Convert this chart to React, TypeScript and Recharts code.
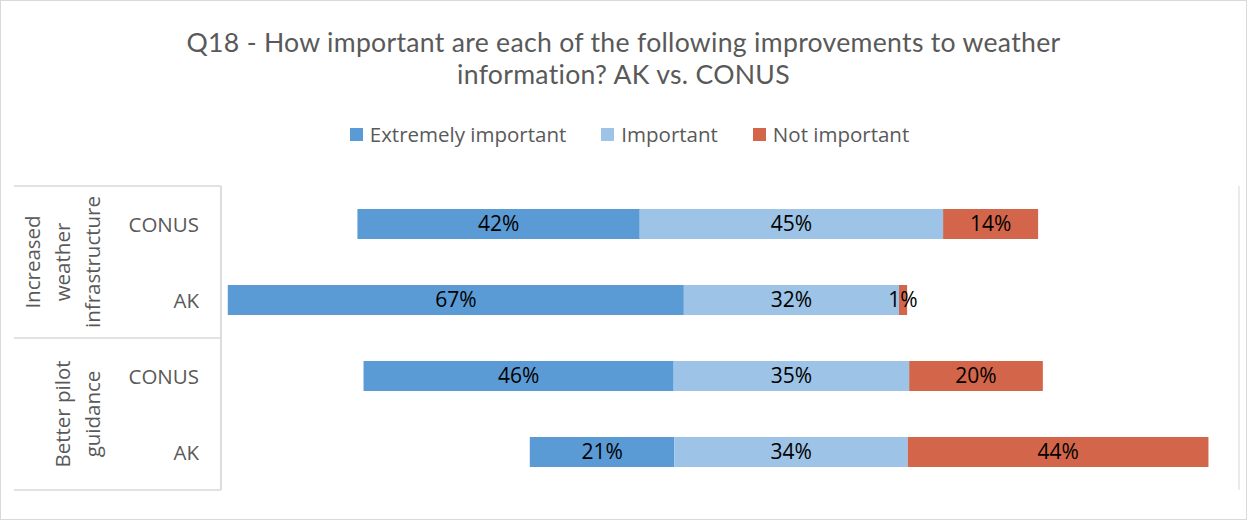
import React from 'react';
import { BarChart, Bar, XAxis, YAxis, CartesianGrid, LabelList } from 'recharts';

const rowKeys = ['infra-conus', 'infra-ak', 'pilot-conus', 'pilot-ak'];
const rowLabels = ['CONUS', 'AK', 'CONUS', 'AK'];
const groupLabels = [['Increased', 'weather', 'infrastructure'], ['Better pilot', 'guidance']];
const rowGroup = [0, 0, 1, 1];
const offsetValues = [20.1, 1.0, 21.0, 45.5];
const extremelyValues = [41.6, 67.2, 45.7, 21.3];
const importantValues = [44.7, 31.7, 34.7, 34.4];
const notImportantValues = [14.0, 1.2, 19.7, 44.3];
const xTicks = [0, 20, 40, 60, 80, 100, 120, 140];
const titleLines = ['Q18 - How important are each of the following improvements to weather', 'information? AK vs. CONUS'];
const seriesNames = ['Extremely important', 'Important', 'Not important'];
const seriesColors = ['#5B9BD5', '#9DC3E6', '#D3654A'];

const data = rowKeys.map((k, i) => ({
  key: k,
  label: rowLabels[i],
  group: rowGroup[i],
  offset: offsetValues[i],
  extremely: extremelyValues[i],
  important: importantValues[i],
  notImportant: notImportantValues[i],
}));

const W = 1247;
const H = 520;
const TOP = 186;
const BOTTOM = 30;
const YW = 221;
const FONT = '"Open Sans", sans-serif';
const TITLE_FONT = 'Lato, "Open Sans", sans-serif';
const HALF = (H - TOP - BOTTOM) / data.length / 2;

const YTick = (props: any) => {
  const { y, payload, index } = props;
  const i = typeof index === 'number' ? index : rowKeys.indexOf(payload.value);
  const d = data[i];
  const firstOfGroup = i === 0 || data[i - 1].group !== d.group;
  const last = i === data.length - 1;
  const lines = groupLabels[d.group];
  return (
    <g>
      <text x={YW - 22} y={y} textAnchor="end" dominantBaseline="central" fill="#595959" fontSize={20.5} fontFamily={FONT}>
        {d.label}
      </text>
      {firstOfGroup && <line x1={14} x2={YW} y1={y - HALF} y2={y - HALF} stroke="#D9D9D9" strokeWidth={1.5} />}
      {last && <line x1={14} x2={YW} y1={y + HALF} y2={y + HALF} stroke="#D9D9D9" strokeWidth={1.5} />}
      {firstOfGroup && (
        <text transform={`translate(0, ${y + HALF}) rotate(-90)`} textAnchor="middle" fill="#595959" fontSize={20.5} fontFamily={FONT}>
          {lines.map((t, j) => (
            <tspan key={j} x={0} y={92 - (lines.length - 1 - j) * 30} dominantBaseline="central">{t}</tspan>
          ))}
        </text>
      )}
    </g>
  );
};

const fmt = (v: any) => `${Math.round(Number(v))}%`;

export default function App() {
  return (
    <div style={{ position: 'fixed', left: 0, top: 0, width: W, height: H, background: '#fff', fontFamily: FONT }}>
      <div style={{ position: 'absolute', left: 0, top: 0, width: W, height: H, boxSizing: 'border-box', border: '1.5px solid #D9D9D9', pointerEvents: 'none', zIndex: 2 }} />
      {titleLines.map((t, i) => (
        <div key={i} style={{ position: 'absolute', left: 0, top: 27 + i * 32, width: W, textAlign: 'center', color: '#595959', fontFamily: TITLE_FONT, fontSize: 26.6, letterSpacing: 0.3, lineHeight: '31px', whiteSpace: 'nowrap' }}>
          {t}
        </div>
      ))}
      <div style={{ position: 'absolute', left: 0, top: 121, width: W, display: 'flex', justifyContent: 'center', color: '#595959', fontSize: 20.5, lineHeight: '26px', paddingLeft: 12, boxSizing: 'border-box' }}>
        {seriesNames.map((n, i) => (
          <div key={n} style={{ display: 'flex', alignItems: 'center', marginRight: i < seriesNames.length - 1 ? 35 : 0 }}>
            <span style={{ display: 'inline-block', width: 13, height: 13, background: seriesColors[i], marginRight: 7 }} />
            <span>{n}</span>
          </div>
        ))}
      </div>
      <BarChart width={W} height={H} data={data} layout="vertical" margin={{ top: TOP, bottom: BOTTOM, left: 0, right: 8 }} barSize={30}>
        <CartesianGrid horizontal={false} vertical stroke="#E3E3E3" strokeWidth={1.5} />
        <XAxis type="number" domain={[0, 150]} ticks={xTicks} tick={false} axisLine={false} tickLine={false} height={0} />
        <YAxis type="category" dataKey="key" width={YW} tick={<YTick />} tickLine={false} axisLine={{ stroke: '#D9D9D9', strokeWidth: 1.5 }} interval={0} />
        <Bar dataKey="offset" stackId="a" fill="transparent" isAnimationActive={false} />
        <Bar dataKey="extremely" stackId="a" fill={seriesColors[0]} isAnimationActive={false}>
          <LabelList dataKey="extremely" position="center" formatter={fmt} fill="#000" fontSize={21} fontFamily={FONT} />
        </Bar>
        <Bar dataKey="important" stackId="a" fill={seriesColors[1]} isAnimationActive={false}>
          <LabelList dataKey="important" position="center" formatter={fmt} fill="#000" fontSize={21} fontFamily={FONT} />
        </Bar>
        <Bar dataKey="notImportant" stackId="a" fill={seriesColors[2]} isAnimationActive={false}>
          <LabelList dataKey="notImportant" position="center" formatter={fmt} fill="#000" fontSize={21} fontFamily={FONT} />
        </Bar>
      </BarChart>
    </div>
  );
}
